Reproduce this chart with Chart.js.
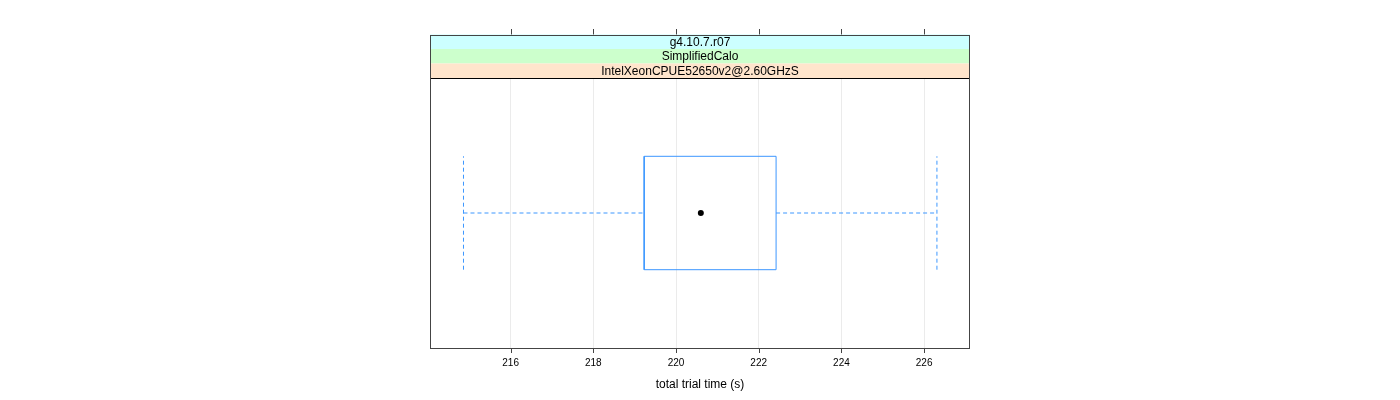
<!DOCTYPE html>
<html>
<head>
<meta charset="utf-8">
<script src="https://cdn.jsdelivr.net/npm/chart.js@4/dist/chart.umd.min.js"></script>
<style>html,body{margin:0;padding:0;background:#fff}</style>
</head>
<body>
<canvas id="c" width="1400" height="400"></canvas>
<script>
// ---- data ----
const stripLabels = ["g4.10.7.r07", "SimplifiedCalo", "IntelXeonCPUE52650v2@2.60GHzS"];
const stripColors = ["#ccffff", "#ccffcc", "#ffe5cc"];
const boxStats = [214.86, 219.23, 220.60, 222.42, 226.31]; // lower whisker, Q1, median, Q3, upper whisker
const tickValues = [216, 218, 220, 222, 224, 226];
const xRange = [214.05, 227.11];
const boxHalf = 0.21; // half height of box in panel units (0..1)
const axisTitle = "total trial time (s)";

const [wLo, q1, med, q3, wHi] = boxStats;
const yc = 0.5, yLo = yc - boxHalf, yHi = yc + boxHalf;
const blue = "#3d97ff";

const panelPlugin = {
  id: 'panel',
  afterDraw(chart) {
    const ctx = chart.ctx, a = chart.chartArea, xs = chart.scales.x;
    ctx.save();
    // strips
    const sh = 14.5;
    ctx.font = "12px 'Liberation Sans', Arial, sans-serif";
    ctx.textAlign = 'center';
    ctx.textBaseline = 'middle';
    for (let i = 0; i < stripLabels.length; i++) {
      const top = a.top - sh * (stripLabels.length - i);
      ctx.fillStyle = stripColors[i];
      ctx.fillRect(a.left, top, a.right - a.left, sh);
      ctx.strokeStyle = '#000';
      ctx.lineWidth = 1;
      ctx.beginPath();
      ctx.moveTo(a.left, Math.round(top + sh) + 0.5);
      ctx.lineTo(a.right, Math.round(top + sh) + 0.5);
      ctx.stroke();
      ctx.fillStyle = '#000';
      ctx.fillText(stripLabels[i], (a.left + a.right) / 2, top + sh / 2 + 0.5);
    }
    const stripTop = a.top - sh * stripLabels.length;
    // panel border
    ctx.strokeStyle = '#444';
    ctx.lineWidth = 1;
    ctx.strokeRect(Math.round(a.left) + 0.5, Math.round(stripTop) + 0.5,
                   Math.round(a.right - a.left) - 1, Math.round(a.bottom - stripTop) - 1);
    // top and bottom ticks
    ctx.beginPath();
    for (const v of tickValues) {
      const px = Math.round(xs.getPixelForValue(v)) + 0.5;
      ctx.moveTo(px, stripTop);
      ctx.lineTo(px, stripTop - 5.5);
      ctx.moveTo(px, a.bottom);
      ctx.lineTo(px, a.bottom + 5);
    }
    ctx.stroke();
    ctx.restore();
  }
};

new Chart(document.getElementById('c'), {
  type: 'scatter',
  data: {
    datasets: [
      { data: [{x: wLo, y: yc}, {x: q1, y: yc}], showLine: true, borderColor: blue, borderWidth: 1, borderDash: [4, 3], pointRadius: 0 },
      { data: [{x: q3, y: yc}, {x: wHi, y: yc}], showLine: true, borderColor: blue, borderWidth: 1, borderDash: [4, 3], pointRadius: 0 },
      { data: [{x: wLo, y: yLo}, {x: wLo, y: yHi}], showLine: true, borderColor: blue, borderWidth: 1, borderDash: [4, 3], pointRadius: 0 },
      { data: [{x: wHi, y: yLo}, {x: wHi, y: yHi}], showLine: true, borderColor: blue, borderWidth: 1, borderDash: [4, 3], pointRadius: 0 },
      { data: [{x: q1, y: yLo}, {x: q3, y: yLo}, {x: q3, y: yHi}, {x: q1, y: yHi}, {x: q1, y: yLo}], showLine: true, borderColor: blue, borderWidth: 1, pointRadius: 0 },
      { data: [{x: med, y: yc}], pointRadius: 3, pointBackgroundColor: '#000', pointBorderColor: '#000', borderWidth: 0 }
    ]
  },
  options: {
    responsive: false,
    animation: false,
    devicePixelRatio: 1,
    layout: { padding: { left: 430, right: 430, top: 78, bottom: 0 } },
    plugins: { legend: { display: false }, tooltip: { enabled: false } },
    scales: {
      x: {
        type: 'linear',
        min: xRange[0], max: xRange[1],
        afterBuildTicks(s) { s.ticks = tickValues.map(v => ({ value: v })); },
        afterFit(s) { s.height = 52; },
        grid: { color: '#ebebeb', drawTicks: false, drawOnChartArea: true },
        border: { display: false },
        ticks: { color: '#000', padding: 9, maxRotation: 0, font: { family: "'Liberation Sans', Arial, sans-serif", size: 10 } },
        title: { display: true, text: axisTitle, color: '#000', padding: { top: 4, bottom: 8 }, font: { family: "'Liberation Sans', Arial, sans-serif", size: 12 } }
      },
      y: { type: 'linear', min: 0, max: 1, display: false }
    }
  },
  plugins: [panelPlugin]
});
</script>
</body>
</html>
